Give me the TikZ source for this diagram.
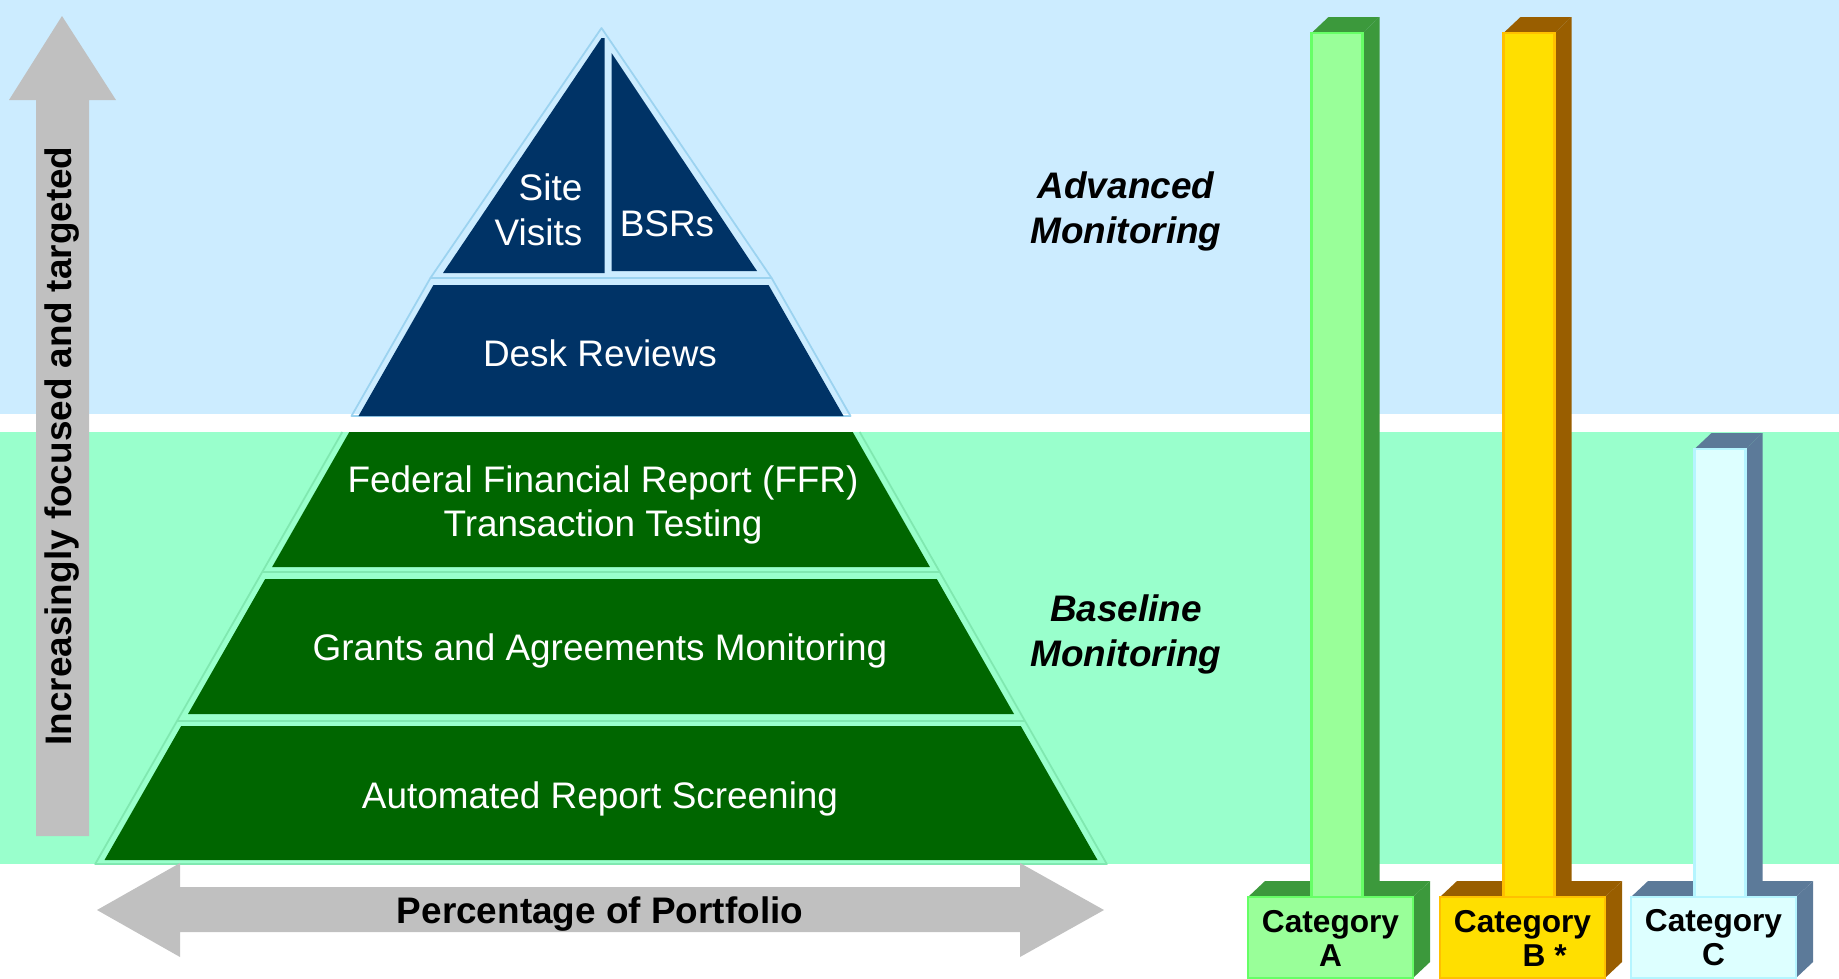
\documentclass[tikz,border=0pt]{standalone}
\usepackage{fontspec}
\setmainfont{Liberation Sans}
\usetikzlibrary{positioning}

\definecolor{advband}{HTML}{CCECFF}
\definecolor{baseband}{HTML}{99FFCC}
\definecolor{advtier}{HTML}{003366}
\definecolor{basetier}{HTML}{006600}
\definecolor{advedge}{HTML}{9CD3F0}
\definecolor{baseedge}{HTML}{80E8B0}
\definecolor{axisgray}{HTML}{C0C0C0}
\definecolor{catAfront}{HTML}{99FF99}
\definecolor{catAedge}{HTML}{66FF66}
\definecolor{catAside}{HTML}{3C993C}
\definecolor{catBfront}{HTML}{FFDF00}
\definecolor{catBedge}{HTML}{FFC000}
\definecolor{catBside}{HTML}{995E00}
\definecolor{catCfront}{HTML}{DDFFFF}
\definecolor{catCedge}{HTML}{B5F5FF}
\definecolor{catCside}{HTML}{5C7A99}

\begin{document}
\begin{tikzpicture}[x=0.01cm, y=-0.01cm,
    tierlabel/.style={text=white, font=\fontsize{10.5}{12.7}\selectfont, align=center, inner sep=0pt},
    bandlabel/.style={font=\fontsize{10.5}{12.8}\selectfont\bfseries\itshape, align=center, inner sep=0pt},
    axislabel/.style={font=\fontsize{10.5}{12.6}\selectfont\bfseries, inner sep=0pt},
    catlabel/.style={font=\fontsize{9}{9.7}\selectfont\bfseries, align=center, inner sep=0pt},
    tieredge/.style={line width=0.5pt, line join=round},
    pics/catbar/.style n args={5}{
        code={
            % box under the bar
            \fill[#3] (-82.5,0) -- (82.5,0) -- (99.5,-16) -- (-65.5,-16) -- cycle;
            \fill[#3] (82.5,0) -- (99.5,-16) -- (99.5,65) -- (82.5,81) -- cycle;
            % the bar itself
            \fill[#3] (32,-#4) -- (49,-#4-16) -- (49,-16) -- (32,0) -- cycle;
            \fill[#3] (-19,-#4) -- (32,-#4) -- (49,-#4-16) -- (-2,-#4-16) -- cycle;
            \filldraw[fill=#1, draw=#2, line width=0.6pt] (-19,-#4) rectangle (32,0);
            \filldraw[fill=#1, draw=#2, line width=0.6pt] (-82.5,0) rectangle (82.5,81);
            \node[catlabel] (-label) at (0,41) {#5};
        }
    }]

    \useasboundingbox (0,0) rectangle (1839,978);

    % bands
    \fill[advband] (0,0) rectangle (1839,414);
    \fill[baseband] (0,432) rectangle (1839,864);

    % pyramid outlines
    \draw[advedge, tieredge] (601.5,28) -- (771.6,278) -- (430.4,278) -- cycle;
    \draw[advedge, tieredge] (430.4,278) -- (771.6,278) -- (850.5,416) -- (351.5,416) -- cycle;
    \draw[baseedge, tieredge] (342.3,432) -- (95.2,864) -- (1106.8,864) -- (859.7,432);
    \draw[baseedge, tieredge] (262.2,572) -- (939.8,572);
    \draw[baseedge, tieredge] (177,721) -- (1025,721);

    % advanced tiers
    \fill[advtier] (601.5,38) -- (604.5,38) -- (604.5,273) -- (443,273) -- cycle;
    \fill[advtier] (611.5,53) -- (757,271) -- (611.5,271) -- cycle;
    \fill[advtier] (433.4,285) -- (768.6,285) -- (843.5,416) -- (358.5,416) -- cycle;

    % baseline tiers
    \fill[basetier] (349.3,432) -- (852.7,432) -- (929.9,567) -- (272.1,567) -- cycle;
    \fill[basetier] (265.2,579) -- (936.8,579) -- (1014,714) -- (188,714) -- cycle;
    \fill[basetier] (181.2,726) -- (1020.8,726) -- (1097.5,860) -- (104.5,860) -- cycle;

    \node[tierlabel, align=right, anchor=east] (site) at (583,210) {Site\\Visits};
    \node[tierlabel] (bsr) at (667,224) {BSRs};
    \node[tierlabel] (desk) at (600,353) {Desk Reviews};
    \node[tierlabel] (ffr) at (603,505) {Federal Financial Report (FFR)\\Transaction Testing};
    \node[tierlabel] (gam) at (600,651) {Grants and Agreements Monitoring};
    \node[tierlabel] (ars) at (600,799) {Automated Report Screening};

    \node[bandlabel] (adv) at (1126,211) {Advanced\\Monitoring};
    \node[bandlabel] (base) at (1126,634) {Baseline\\Monitoring};

    % axes
    \fill[axisgray] (62,16) -- (116,100) -- (89,100) -- (89,836) -- (36,836) -- (36,100) -- (9,100) -- cycle;
    \node[axislabel, rotate=90] (focus) at (62,446) {Increasingly focused and targeted};

    \fill[axisgray] (97,910) -- (180,863) -- (180,887) -- (1020,887) -- (1020,863) -- (1104,910)
        -- (1020,957) -- (1020,932) -- (180,932) -- (180,957) -- cycle;
    \node[axislabel] (portfolio) at (600,914) {Percentage of Portfolio};

    % categories
    \pic (catA) at (1330.5,897) {catbar={catAfront}{catAedge}{catAside}{864}{Category\\A}};
    \pic (catB) at (1522.5,897) {catbar={catBfront}{catBedge}{catBside}{864}{Category\\\hspace*{1.4em}B *}};
    \pic (catC) at (1713.5,897) {catbar={catCfront}{catCedge}{catCside}{448}{Category\\C}};

\end{tikzpicture}
\end{document}
